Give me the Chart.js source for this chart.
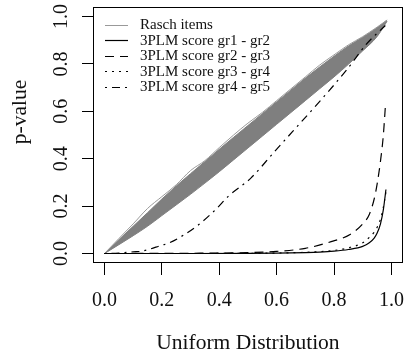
<!DOCTYPE html>
<html>
<head>
<meta charset="utf-8">
<script src="https://cdn.jsdelivr.net/npm/chart.js@4/dist/chart.umd.min.js"></script>
<style>
html,body{margin:0;padding:0;background:#fff;}
#wrap{width:418px;height:356px;}
</style>
</head>
<body>
<div id="wrap"><canvas id="c" width="418" height="356"></canvas></div>
<script>
// ---- data ----
const xTicks = [0, 0.2, 0.4, 0.6, 0.8, 1.0];
const yTicks = [0, 0.2, 0.4, 0.6, 0.8, 1.0];
const xTitle = "Uniform Distribution";
const yTitle = "p-value";

const raschX      = [0, 0.05, 0.1, 0.15, 0.2, 0.25, 0.3, 0.35, 0.4, 0.45, 0.5, 0.55, 0.6, 0.65, 0.7, 0.75, 0.8, 0.85, 0.9, 0.95, 0.985];
const raschUpper  = [0, 0.058, 0.115, 0.172, 0.23, 0.285, 0.337, 0.388, 0.44, 0.49, 0.54, 0.59, 0.64, 0.69, 0.74, 0.787, 0.832, 0.875, 0.912, 0.952, 0.985];
const raschLower  = [0, 0.037, 0.075, 0.115, 0.16, 0.205, 0.25, 0.297, 0.345, 0.395, 0.445, 0.495, 0.545, 0.595, 0.645, 0.695, 0.745, 0.798, 0.855, 0.915, 0.98];
const raschWiggle = [0, 0.063, 0.125, 0.19, 0.24, 0.29, 0.35, 0.392, 0.447, 0.5, 0.55, 0.595, 0.645, 0.695, 0.745, 0.795, 0.838, 0.88, 0.915, 0.955, 0.985];

const gr12X = [0, 0.3, 0.5, 0.6, 0.7, 0.75, 0.8, 0.85, 0.9, 0.923, 0.94, 0.95, 0.962, 0.972, 0.981];
const gr12Y = [0, 0, 0.001, 0.002, 0.004, 0.006, 0.01, 0.017, 0.03, 0.045, 0.065, 0.085, 0.125, 0.185, 0.27];
const gr23X = [0, 0.3, 0.5, 0.6, 0.7, 0.79, 0.856, 0.9, 0.923, 0.94, 0.951, 0.962, 0.972, 0.979];
const gr23Y = [0, 0.001, 0.004, 0.009, 0.022, 0.05, 0.08, 0.125, 0.165, 0.23, 0.298, 0.39, 0.5, 0.62];
const gr34X = [0, 0.3, 0.5, 0.6, 0.7, 0.75, 0.8, 0.85, 0.9, 0.923, 0.94, 0.95, 0.962, 0.972, 0.981];
const gr34Y = [0, 0, 0.001, 0.002, 0.005, 0.008, 0.013, 0.024, 0.045, 0.068, 0.09, 0.11, 0.145, 0.195, 0.26];
const gr45X = [0, 0.05, 0.1, 0.131, 0.2, 0.226, 0.321, 0.388, 0.432, 0.511, 0.589, 0.656, 0.756, 0.845, 0.912, 0.979];
const gr45Y = [0, 0.002, 0.007, 0.01, 0.035, 0.045, 0.115, 0.186, 0.242, 0.319, 0.425, 0.515, 0.65, 0.776, 0.882, 0.962];

const legendLabels = ["Rasch items", "3PLM score gr1 - gr2", "3PLM score gr2 - gr3", "3PLM score gr3 - gr4", "3PLM score gr4 - gr5"];

// ---- build ----
const pts = (xs, ys) => xs.map((x, i) => ({x: x, y: ys[i]}));
const FONT = "'Liberation Serif', 'Times New Roman', serif";
const GREY = '#7f7f7f';
const TXT = '#111';

const datasets = [
  {label: legendLabels[1], data: pts(gr12X, gr12Y), borderColor: '#000', borderWidth: 1.2, borderDash: []},
  {label: legendLabels[2], data: pts(gr23X, gr23Y), borderColor: '#000', borderWidth: 1.2, borderDash: [9, 6]},
  {label: legendLabels[3], data: pts(gr34X, gr34Y), borderColor: '#000', borderWidth: 1.2, borderDash: [2, 5]},
  {label: legendLabels[4], data: pts(gr45X, gr45Y), borderColor: '#000', borderWidth: 1.2, borderDash: [2, 5, 8, 5]},
  {label: 'rasch-wiggle', data: pts(raschX, raschWiggle), borderColor: '#9a9a9a', borderWidth: 1},
  {label: legendLabels[0], data: pts(raschX, raschLower), borderColor: GREY, borderWidth: 1},
  {label: 'rasch-upper', data: pts(raschX, raschUpper), borderColor: GREY, borderWidth: 1, backgroundColor: GREY, fill: 5}
];
datasets.forEach(d => {
  d.pointRadius = 0;
  d.cubicInterpolationMode = 'monotone';
  if (d.fill === undefined) d.fill = false;
});

const boxPlugin = {
  id: 'boxAndLabels',
  afterDraw(chart) {
    const ctx = chart.ctx, a = chart.chartArea;
    ctx.save();
    ctx.strokeStyle = '#000';
    ctx.lineWidth = 1;
    ctx.strokeRect(Math.round(a.left) + 0.5, Math.round(a.top) + 0.5, Math.round(a.right - a.left) - 1, Math.round(a.bottom - a.top) - 1);
    // rotated y tick labels (R style)
    const ys = chart.scales.y;
    ctx.fillStyle = TXT;
    ctx.font = '20px ' + FONT;
    ctx.textAlign = 'center';
    ctx.textBaseline = 'alphabetic';
    ys.ticks.forEach((t, i) => {
      const py = ys.getPixelForTick(i);
      ctx.save();
      ctx.translate(66.5, py);
      ctx.rotate(-Math.PI / 2);
      ctx.fillText(t.value.toFixed(1), 0, 0);
      ctx.restore();
    });
    // y axis title
    ctx.save();
    ctx.font = '21.5px ' + FONT;
    ctx.textBaseline = 'middle';
    ctx.translate(20, 112);
    ctx.rotate(-Math.PI / 2);
    ctx.fillText(yTitle, 0, 0);
    ctx.restore();
    // legend
    const items = [5, 0, 1, 2, 3];
    ctx.font = '15px ' + FONT;
    ctx.textAlign = 'left';
    ctx.textBaseline = 'middle';
    items.forEach((di, k) => {
      const ds = chart.data.datasets[di];
      const y = 24.5 + k * 15.5;
      ctx.save();
      ctx.strokeStyle = di === 5 ? '#999' : ds.borderColor;
      ctx.lineWidth = ds.borderWidth;
      ctx.setLineDash(ds.borderDash || []);
      ctx.beginPath();
      ctx.moveTo(105, Math.round(y) + 0.5);
      ctx.lineTo(128, Math.round(y) + 0.5);
      ctx.stroke();
      ctx.restore();
      ctx.fillStyle = TXT;
      ctx.fillText(ds.label, 140, y + 1);
    });
    ctx.restore();
  }
};

new Chart(document.getElementById('c'), {
  type: 'line',
  data: {datasets: datasets},
  options: {
    responsive: false,
    animation: false,
    devicePixelRatio: 1,
    layout: {padding: {top: 7, right: 3, left: 0, bottom: 0}},
    plugins: {legend: {display: false}, tooltip: {enabled: false}},
    scales: {
      x: {
        type: 'linear', min: -0.04, max: 1.04,
        afterBuildTicks: s => { s.ticks = xTicks.map(v => ({value: v})); },
        afterFit: s => { s.height = 93; },
        border: {display: false},
        grid: {drawOnChartArea: false, drawTicks: true, tickLength: 12, color: '#000', lineWidth: 1},
        ticks: {color: TXT, font: {family: FONT, size: 20}, padding: 14, maxRotation: 0, minRotation: 0,
                callback: v => Number(v).toFixed(1)},
        title: {display: true, text: xTitle, color: TXT, font: {family: FONT, size: 21.5}, padding: {top: 0, bottom: 0}}
      },
      y: {
        type: 'linear', min: -0.04, max: 1.04,
        afterBuildTicks: s => { s.ticks = yTicks.map(v => ({value: v})); },
        afterFit: s => { s.width = 93; },
        border: {display: false},
        grid: {drawOnChartArea: false, drawTicks: true, tickLength: 11, color: '#000', lineWidth: 1},
        ticks: {display: false},
        title: {display: false}
      }
    }
  },
  plugins: [boxPlugin]
});
</script>
</body>
</html>
